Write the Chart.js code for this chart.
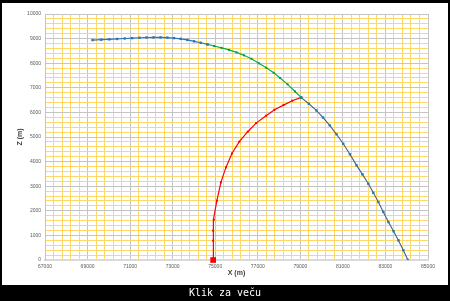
<!DOCTYPE html>
<html>
<head>
<meta charset="utf-8">
<script src="https://cdn.jsdelivr.net/npm/chart.js@4"></script>
<style>
  html, body { margin: 0; padding: 0; background: #000; width: 450px; height: 301px; overflow: hidden; }
  #paper { position: absolute; left: 2px; top: 3px; width: 446px; height: 282px; background: #fff; }
  #chart { position: absolute; left: 0; top: 0; }
  #caption { position: absolute; left: 0; top: 285px; width: 450px; height: 16px; color: #fff;
    font: 10px "DejaVu Sans Mono", monospace; text-align: center; line-height: 16px; }
</style>
</head>
<body>
<div id="paper"></div>
<canvas id="chart" width="450" height="301"></canvas>
<div id="caption">Klik za veču</div>
<script>
// ascending part of the trajectory (blue)
const blueX = [69234, 69645, 70023, 70387, 70746, 71095, 71440, 71771, 72102, 72432, 72749, 73060, 73377, 73693, 74005, 74322, 74638];
const blueZ = [8940, 8955, 8970, 8985, 9005, 9020, 9035, 9045, 9050, 9048, 9040, 9020, 8990, 8945, 8890, 8830, 8765];

// green section up to the intersection
const greenX = [74638, 74950, 75300, 75650, 76000, 76350, 76700, 77050, 77400, 77750, 78050, 78400, 78750, 79045];
const greenZ = [8765, 8700, 8625, 8540, 8440, 8320, 8180, 7995, 7815, 7610, 7400, 7140, 6850, 6600];

// descending part after the intersection
const descX = [79045, 79400, 79754, 80070, 80382, 80700, 81015, 81330, 81643, 81920, 82196, 82430, 82668, 82900, 83141, 83380, 83613, 83840, 84053];
const descZ = [6600, 6350, 6081, 5790, 5472, 5110, 4728, 4300, 3846, 3480, 3102, 2730, 2354, 1950, 1541, 1170, 797, 400, 0];

// red interceptor path
const redX = [74903, 74903, 74903, 74936, 75077, 75266, 75503, 75786, 76131, 76528, 76920, 77392, 77784, 78209, 78620, 79045];
const redZ = [0, 785, 1191, 1638, 2411, 3154, 3764, 4333, 4809, 5215, 5565, 5866, 6110, 6297, 6476, 6610];

const xMin = 67000, xMax = 85000, xStep = 400, xMajor = 2000;
const zMin = 0, zMax = 10000, zStep = 200, zMajor = 1000;

const pts = (xs, zs) => xs.map((x, i) => ({ x: x, y: zs[i] }));

const gridColor = major => ctx => {
  const v = Math.round(ctx.tick.value);
  return ((v - (major === xMajor ? xMin : zMin)) % major === 0) ? '#c4c4c4' : '#ffd966';
};

new Chart(document.getElementById('chart'), {
  type: 'scatter',
  data: {
    datasets: [
      {
        data: pts(blueX, blueZ), showLine: true, borderColor: '#2e75b6', borderWidth: 1.2,
        pointStyle: 'rect', pointRadius: 1.7, pointBackgroundColor: '#2e75b6', pointBorderWidth: 0
      },
      {
        data: pts(greenX, greenZ), showLine: true, borderColor: '#00b050', borderWidth: 1.2,
        pointStyle: 'rect', pointRadius: 1.4, pointBackgroundColor: '#00994a', pointBorderWidth: 0
      },
      {
        data: pts(descX, descZ), showLine: true, borderColor: '#3f6287', borderWidth: 1.1,
        pointStyle: 'rect', pointRadius: 1.7, pointBackgroundColor: '#2e75b6', pointBorderWidth: 0
      },
      {
        data: pts(redX, redZ), showLine: true, borderColor: '#ff0000', borderWidth: 1.2, clip: false,
        pointStyle: 'rect', pointRadius: ctx => ctx.dataIndex === 0 ? 4 : 1.4,
        pointBackgroundColor: '#ff0000', pointBorderWidth: 0
      }
    ]
  },
  options: {
    responsive: false,
    animation: false,
    devicePixelRatio: 1,
    layout: { padding: { top: 14, right: 22, left: 0, bottom: 0 } },
    plugins: { legend: { display: false }, tooltip: { enabled: false } },
    scales: {
      x: {
        type: 'linear', min: xMin, max: xMax,
        afterFit: s => { s.height = 41; },
        border: { color: '#d9d9d9', width: 2 },
        grid: { color: gridColor(xMajor), lineWidth: 1, drawTicks: false },
        ticks: {
          stepSize: xStep, autoSkip: false, maxRotation: 0, padding: 4,
          color: '#595959', font: { family: 'Liberation Sans', size: 5 },
          callback: v => (Math.round(v) - xMin) % xMajor === 0 ? String(Math.round(v)) : ''
        },
        title: {
          display: true, text: 'X (m)', color: '#404040',
          font: { family: 'Liberation Sans', size: 7, weight: 'bold' },
          padding: { top: 0, bottom: 24 }
        }
      },
      y: {
        type: 'linear', min: zMin, max: zMax,
        afterFit: s => { s.width = 45; },
        border: { color: '#c4c4c4', width: 1 },
        grid: { color: gridColor(zMajor), lineWidth: 1, drawTicks: false },
        ticks: {
          stepSize: zStep, autoSkip: false, padding: 4,
          color: '#595959', font: { family: 'Liberation Sans', size: 5 },
          callback: v => Math.round(v) % zMajor === 0 ? String(Math.round(v)) : ''
        },
        title: {
          display: true, text: 'Z (m)', color: '#404040',
          font: { family: 'Liberation Sans', size: 7, weight: 'bold' },
          padding: { top: 16, bottom: 0 }
        }
      }
    }
  }
});
</script>
</body>
</html>
